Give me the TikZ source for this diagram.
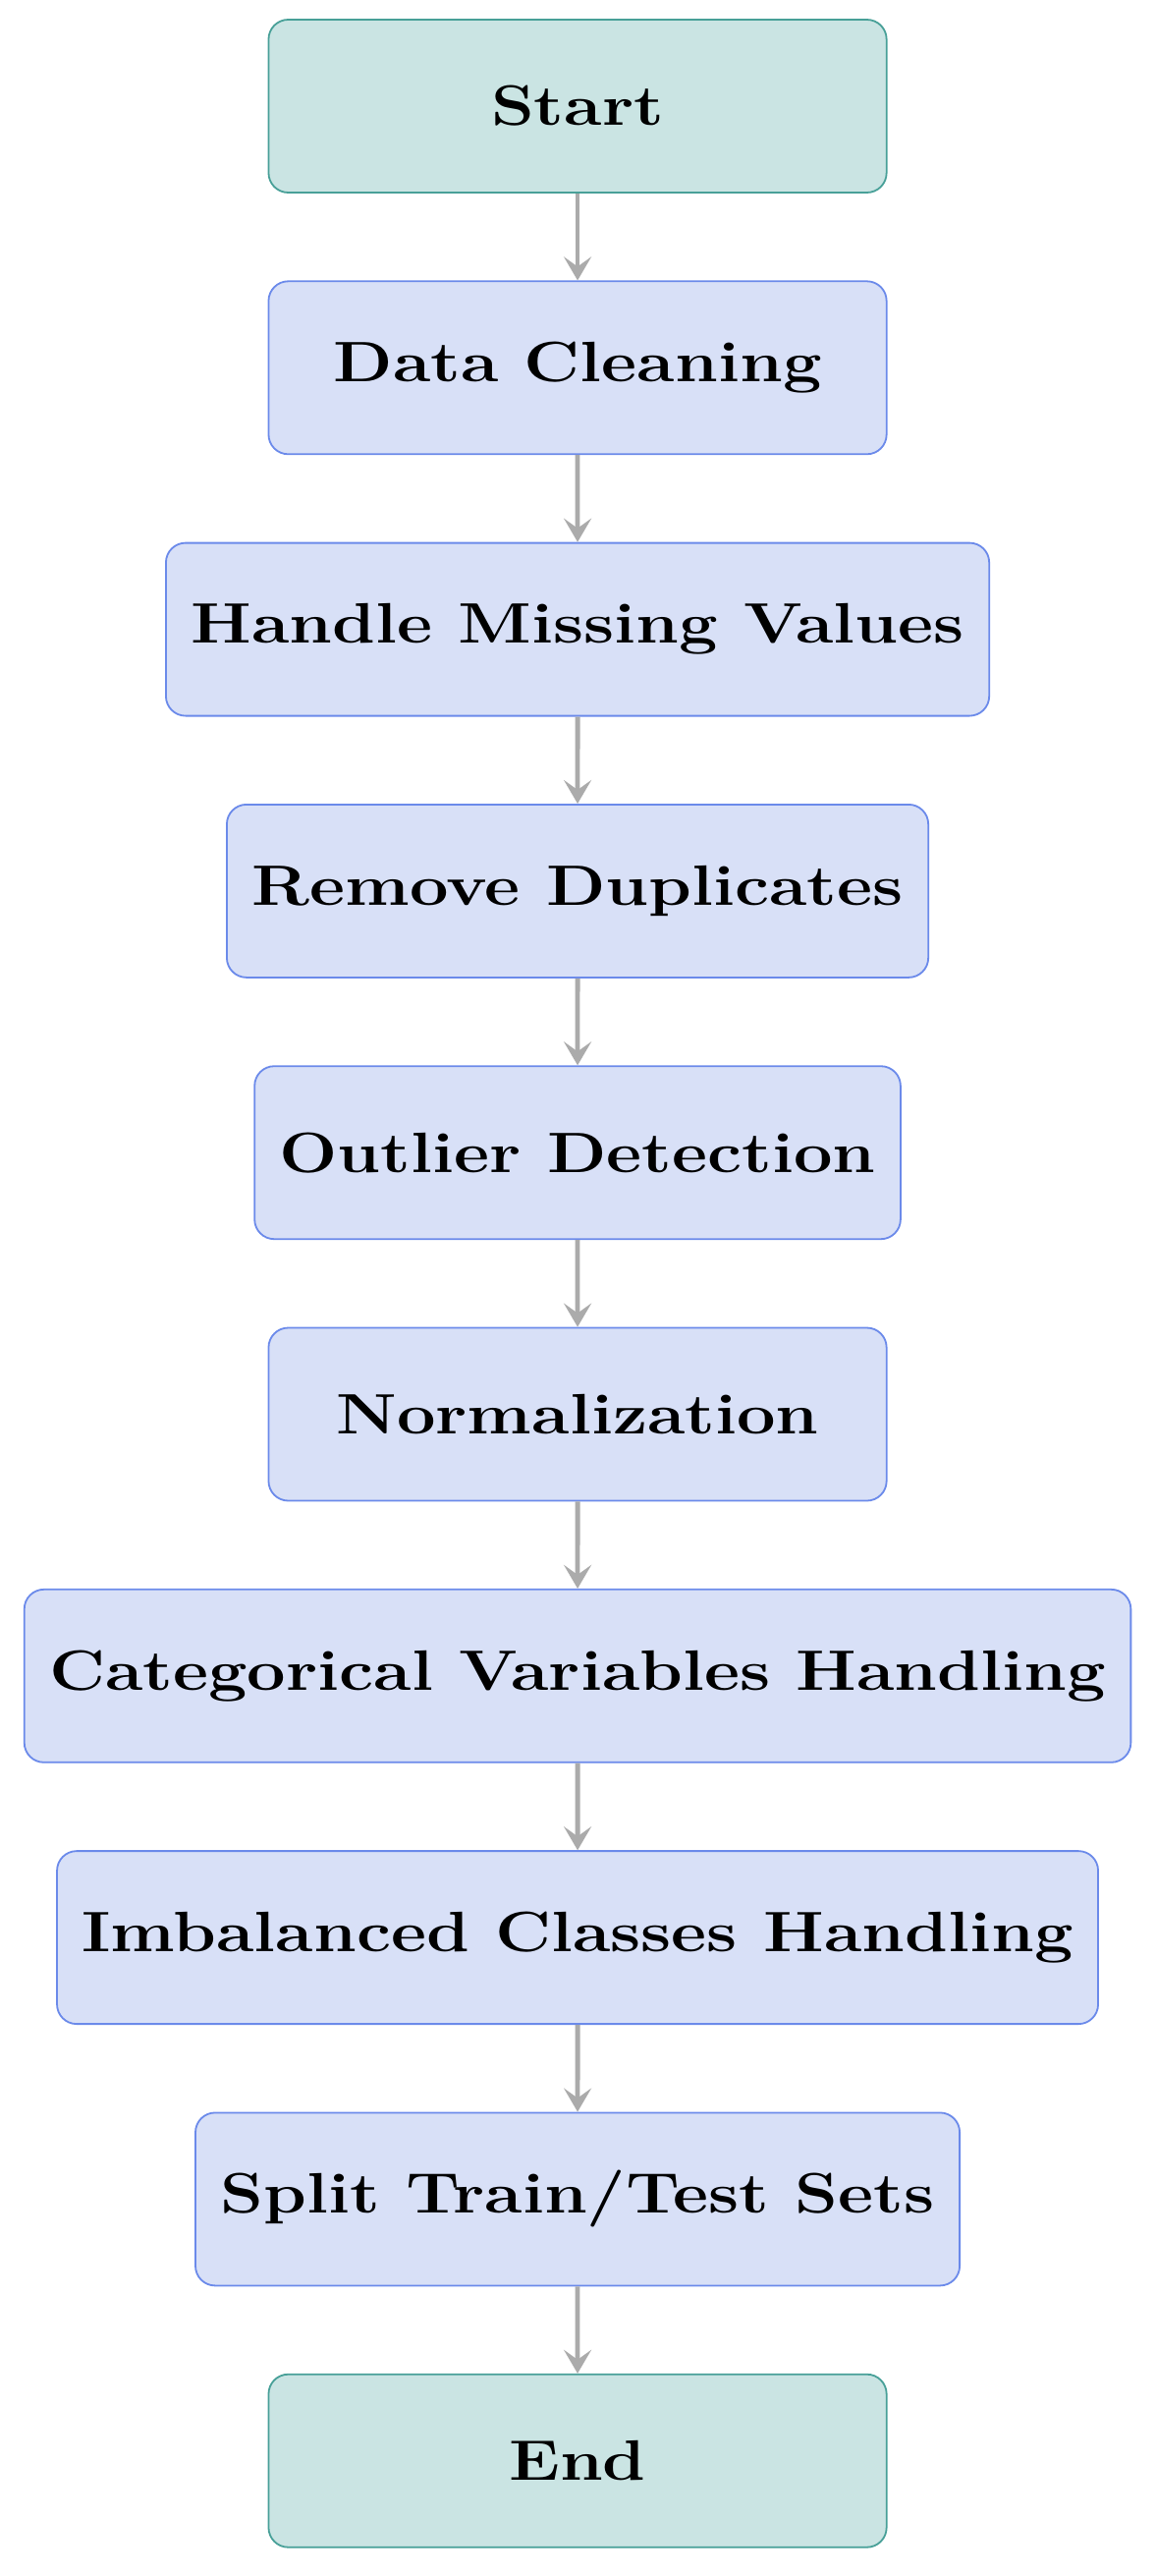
\documentclass[tikz,border=0pt]{standalone}
\usepackage{tikz}
\usetikzlibrary{positioning,arrows.meta}

\definecolor{termfill}{HTML}{CAE4E3}
\definecolor{termdraw}{HTML}{48A098}
\definecolor{procfill}{HTML}{D8E0F7}
\definecolor{procdraw}{HTML}{6B8AEA}
\definecolor{flowgray}{HTML}{ABABAB}

\tikzset{
    box/.style={rectangle, rounded corners=10pt, minimum width=260pt, minimum height=88pt,
        inner xsep=10.5pt, line width=0.9pt, font=\fontsize{29}{34}\selectfont\bfseries},
    terminal/.style={box, fill=termfill, draw=termdraw},
    process/.style={box, fill=procfill, draw=procdraw},
    flow/.style={-{Stealth[length=12pt,width=14pt,inset=5pt]}, line width=2.4pt, draw=flowgray}
}

\begin{document}
\begin{tikzpicture}[node distance=44.25pt, xscale=1.21, transform shape]
    \useasboundingbox (-243pt,0) rectangle (243pt,-1311pt);
    \node[terminal] (start) at (0,-54pt) {Start};
    \node[process] (clean) [below=of start] {Data Cleaning};
    \node[process] (missing) [below=of clean] {Handle Missing Values};
    \node[process] (dupes) [below=of missing] {Remove Duplicates};
    \node[process] (outlier) [below=of dupes] {Outlier Detection};
    \node[process] (norm) [below=of outlier] {Normalization};
    \node[process] (categ) [below=of norm] {Categorical Variables Handling};
    \node[process] (imbal) [below=of categ] {Imbalanced Classes Handling};
    \node[process] (split) [below=of imbal] {Split Train/Test Sets};
    \node[terminal] (end) [below=of split] {End};
    \foreach \a/\b in {start/clean, clean/missing, missing/dupes, dupes/outlier, outlier/norm,
        norm/categ, categ/imbal, imbal/split, split/end}
        \draw[flow] (\a) -- (\b);
\end{tikzpicture}
\end{document}
